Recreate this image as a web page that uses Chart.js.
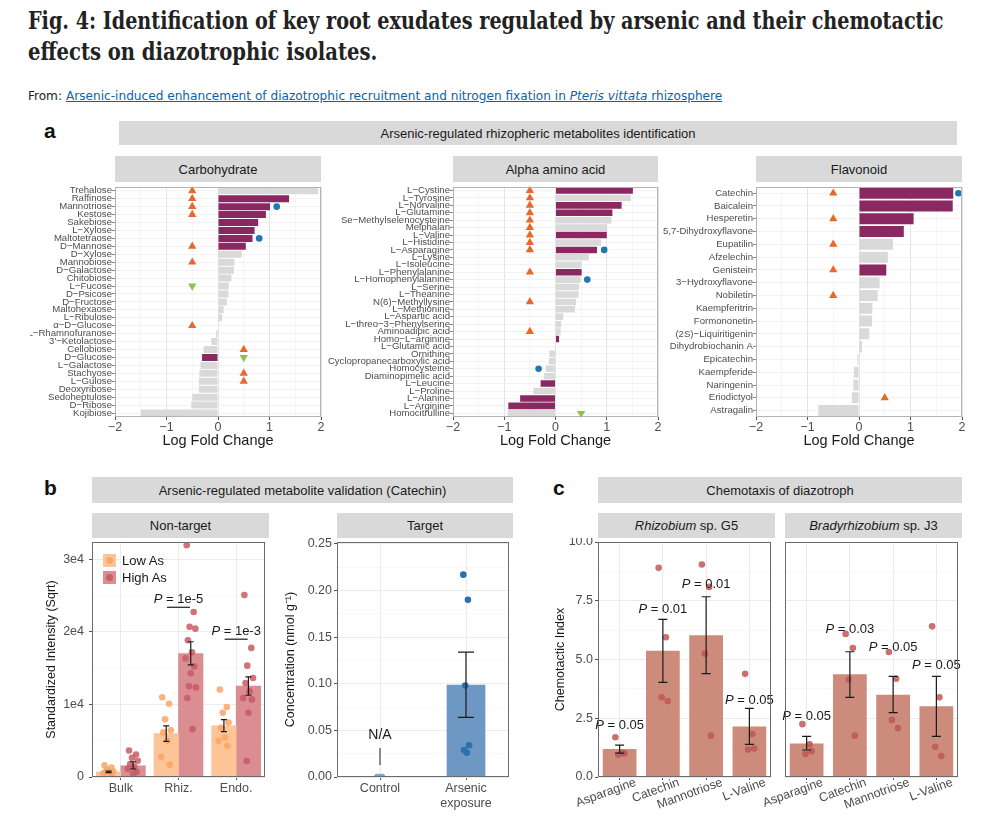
<!DOCTYPE html>
<html>
<head>
<meta charset="utf-8">
<script src="https://cdn.jsdelivr.net/npm/chart.js@4.4.1/dist/chart.umd.min.js"></script>
<style>
  body { margin: 0; width: 985px; height: 822px; position: relative; overflow: hidden; background: #fff;
         font-family: 'Liberation Sans', Arial, sans-serif; color: #1a1a1a; }
  .title { position: absolute; left: 28px; white-space: nowrap; font-family: 'DejaVu Serif Condensed', 'DejaVu Serif', 'Liberation Serif', serif;
           font-weight: bold; font-size: 24px; line-height: 31px; color: #222; transform-origin: 0 0; }
  .from { position: absolute; left: 28px; top: 88px; white-space: nowrap; font-size: 13px; line-height: 16px;
          font-family: 'Liberation Sans Narrow', 'DejaVu Sans Condensed', 'Liberation Sans', sans-serif; color: #222; transform-origin: 0 0; }
  .from a { color: #0b63a6; text-decoration: underline; }
  .tag { position: absolute; font-weight: bold; font-size: 21px; line-height: 24px; color: #111; }
  .strip { position: absolute; background: #d9d9d9; display: flex; align-items: center; justify-content: center;
           font-size: 13px; color: #1a1a1a; white-space: nowrap; }
  canvas { position: absolute; }
  .key { position: absolute; width: 13px; height: 13px; }
  .key i { position: absolute; left: 3px; top: 3px; width: 7px; height: 7px; border-radius: 50%; }
  .ktxt { position: absolute; font-size: 13px; line-height: 14px; color: #1a1a1a; }
</style>
</head>
<body>
<div class="title" id="t1" style="top:5px">Fig. 4: Identification of key root exudates regulated by arsenic and their chemotactic</div>
<div class="title" id="t2" style="top:36px">effects on diazotrophic isolates.</div>
<div class="from" id="fr">From: <a>Arsenic-induced enhancement of diazotrophic recruitment and nitrogen fixation in <i>Pteris vittata</i> rhizosphere</a></div>

<div class="tag" style="left:44px;top:119px">a</div>
<div class="tag" style="left:44px;top:476px">b</div>
<div class="tag" style="left:553px;top:476px">c</div>

<div class="strip" style="left:119px;top:121px;width:838px;height:24px">Arsenic-regulated rhizopheric metabolites identification</div>
<div class="strip" style="left:115px;top:156px;width:206px;height:26px">Carbohydrate</div>
<div class="strip" style="left:453px;top:156px;width:205px;height:26px">Alpha amino acid</div>
<div class="strip" style="left:756px;top:156px;width:206px;height:26px">Flavonoid</div>

<div class="strip" style="left:92px;top:477px;width:421px;height:26px">Arsenic-regulated metabolite validation (Catechin)</div>
<div class="strip" style="left:92px;top:513px;width:177px;height:25px">Non-target</div>
<div class="strip" style="left:337px;top:513px;width:176px;height:25px">Target</div>

<div class="strip" style="left:598px;top:477px;width:364px;height:26px">Chemotaxis of diazotroph</div>
<div class="strip" style="left:598px;top:513px;width:177px;height:25px"><i>Rhizobium</i>&nbsp;sp. G5</div>
<div class="strip" style="left:785px;top:513px;width:177px;height:25px"><i>Bradyrhizobium</i>&nbsp;sp. J3</div>

<script>
// ---------- panel a: log fold change ----------
const carbNames = ['Trehalose', 'Raffinose', 'Mannotriose', 'Kestose', 'Sakebiose', 'L−Xylose', 'Maltotetraose', 'D−Mannose',
  'D−Xylose', 'Mannobiose', 'D−Galactose', 'Chitobiose', 'L−Fucose', 'D−Psicose', 'D−Fructose', 'Maltohexaose', 'L−Ribulose',
  'α−D−Glucose', 'L−Rhamnofuranose', "3'−Ketolactose", 'Cellobiose', 'D−Glucose', 'L−Galactose', 'Stachyose', 'L−Gulose',
  'Deoxyribose', 'Sedoheptulose', 'D−Ribose', 'Kojibiose'];
const carbLfc = [1.94, 1.38, 1.01, 0.93, 0.78, 0.71, 0.67, 0.54, 0.46, 0.32, 0.31, 0.26, 0.21, 0.20, 0.17, 0.11, 0.08,
  0.01, -0.04, -0.13, -0.28, -0.31, -0.34, -0.36, -0.37, -0.37, -0.50, -0.52, -1.50];
const carbSig = ['Raffinose', 'Mannotriose', 'Kestose', 'Sakebiose', 'L−Xylose', 'Maltotetraose', 'D−Mannose', 'D−Glucose'];
const carbUp = [['Trehalose', -0.5], ['Raffinose', -0.5], ['Mannotriose', -0.5], ['Kestose', -0.5], ['D−Mannose', -0.5],
  ['Mannobiose', -0.5], ['α−D−Glucose', -0.5], ['Cellobiose', 0.5], ['Stachyose', 0.5], ['L−Gulose', 0.5]];
const carbDown = [['L−Fucose', -0.5], ['D−Glucose', 0.5]];
const carbDots = [['Mannotriose', 1.14], ['Maltotetraose', 0.80]];

const aminoNames = ['L−Cystine', 'L−Tyrosine', 'L−Norvaline', 'L−Glutamine', 'Se−Methylselenocysteine', 'Melphalan', 'L−Valine',
  'L−Histidine', 'L−Asparagine', 'L−Lysine', 'L−Isoleucine', 'L−Phenylalanine', 'L−Homophenylalanine', 'L−Serine', 'L−Theanine',
  'N(6)−Methyllysine', 'L−Methionine', 'L−Aspartic acid', 'L−threo−3−Phenylserine', 'Aminoadipic acid', 'Homo−L−arginine',
  'L−Glutamic acid', 'Ornithine', 'Cyclopropanecarboxylic acid', 'Homocysteine', 'Diaminopimelic acid', 'L−Leucine',
  'L−Proline', 'L−Alanine', 'L−Arginine', 'Homocitrulline'];
const aminoLfc = [1.51, 1.47, 1.29, 1.11, 1.09, 1.01, 1.00, 0.89, 0.81, 0.65, 0.51, 0.51, 0.49, 0.46, 0.45, 0.40, 0.38,
  0.15, 0.11, 0.10, 0.07, 0.01, -0.12, -0.13, -0.19, -0.22, -0.29, -0.43, -0.69, -0.92, -0.93];
const aminoSig = ['L−Cystine', 'L−Norvaline', 'L−Glutamine', 'L−Valine', 'L−Asparagine', 'L−Phenylalanine', 'Homo−L−arginine',
  'L−Leucine', 'L−Alanine', 'L−Arginine'];
const aminoUp = [['L−Cystine', -0.5], ['L−Tyrosine', -0.5], ['L−Norvaline', -0.5], ['L−Glutamine', -0.5],
  ['Se−Methylselenocysteine', -0.5], ['Melphalan', -0.5], ['L−Valine', -0.5], ['L−Histidine', -0.5], ['L−Asparagine', -0.5],
  ['L−Phenylalanine', -0.5], ['N(6)−Methyllysine', -0.5], ['Aminoadipic acid', -0.5]];
const aminoDown = [['Homocitrulline', 0.5]];
const aminoDots = [['L−Asparagine', 0.95], ['L−Homophenylalanine', 0.62], ['Homocysteine', -0.33]];

const flavNames = ['Catechin', 'Baicalein', 'Hesperetin', '5,7-Dihydroxyflavone', 'Eupatilin', 'Afzelechin', 'Genistein',
  '3−Hydroxyflavone', 'Nobiletin', 'Kaempferitrin', 'Formononetin', '(2S)−Liquiritigenin', 'Dihydrobiochanin A',
  'Epicatechin', 'Kaempferide', 'Naringenin', 'Eriodictyol', 'Astragalin'];
const flavLfc = [1.83, 1.82, 1.06, 0.87, 0.66, 0.56, 0.53, 0.40, 0.36, 0.26, 0.25, 0.20, 0.06, -0.03, -0.10, -0.11, -0.14, -0.79];
const flavSig = ['Catechin', 'Baicalein', 'Hesperetin', '5,7-Dihydroxyflavone', 'Genistein'];
const flavUp = [['Catechin', -0.5], ['Hesperetin', -0.5], ['Eupatilin', -0.5], ['Genistein', -0.5], ['Nobiletin', -0.5],
  ['Eriodictyol', 0.5]];
const flavDown = [];
const flavDots = [['Catechin', 1.93]];

// ---------- panel b: catechin validation ----------
const ntGroups = ['Bulk', 'Rhiz.', 'Endo.'];
const ntLowMean = [700, 6000, 7050];
const ntLowLo = [600, 4900, 6250];
const ntLowHi = [800, 7050, 7900];
const ntHighMean = [1550, 17000, 12550];
const ntHighLo = [1100, 15450, 11270];
const ntHighHi = [2100, 18650, 13800];
const ntLowPts = [[1600, 1300, 1000, 800, 700, 600, 500, 400],
  [11000, 10100, 7950, 6450, 6150, 5000, 2800, 1700],
  [12050, 9650, 8850, 7500, 6800, 5450, 5000, 4300]];
const ntHighPts = [[3650, 3100, 2650, 2250, 1800, 1450, 1150, 700, 450],
  [31950, 22750, 20700, 20450, 18850, 17200, 16350, 15250, 14300, 12500, 12350, 10900, 6600],
  [25100, 17800, 15350, 13650, 12950, 11800, 10900, 10700, 8850, 2200]];
const ntP = ['', '1e-5', '1e-3'];
const ntPy = [null, 24500, 20100];
const ntPline = [null, 23400, 19000];

const tgGroups = ['Control', ['Arsenic', 'exposure']];
const tgMean = [0, 0.099];
const tgLo = [null, 0.064];
const tgHi = [null, 0.134];
const tgPts = [[0, 0, 0], [0.217, 0.190, 0.098, 0.034, 0.029, 0.026]];
const tgNA = 0.045;
const tgNAline = [0.013, 0.031];

// ---------- panel c: chemotaxis ----------
const chemoCats = ['Asparagine', 'Catechin', 'Mannotriose', 'L-Valine'];
const rhizMean = [1.19, 5.37, 6.03, 2.15];
const rhizLo = [1.02, 4.03, 4.40, 1.39];
const rhizHi = [1.36, 6.71, 7.67, 2.92];
const rhizPts = [[1.69, 1.03, 0.95, 1.0], [8.9, 5.95, 3.39, 3.23], [9.04, 8.09, 5.25, 1.76], [4.39, 1.83, 1.17, 1.21]];
const rhizP = ['0.05', '0.01', '0.01', '0.05'];
const rhizPy = [2.2, 7.14, 8.2, 3.25];
const bradyMean = [1.43, 4.37, 3.50, 3.01];
const bradyLo = [1.15, 3.39, 2.74, 1.73];
const bradyHi = [1.73, 5.33, 4.28, 4.28];
const bradyPts = [[2.25, 1.39, 0.98, 1.1], [6.09, 5.49, 4.15, 1.76], [5.32, 4.18, 2.43, 2.08], [6.41, 3.39, 1.29, 0.89]];
const bradyP = ['0.05', '0.03', '0.05', '0.05'];
const bradyPy = [2.57, 6.27, 5.5, 4.75];

// ---------- styling ----------
const FONT = "'Liberation Sans', Arial, Helvetica, sans-serif";
Chart.defaults.font.family = FONT;
Chart.defaults.color = '#4d4d4d';
const PURPLE = '#8a2862', GREY = '#d9d9d9', ORANGE = '#e8682a', GREEN = '#8cc43f', BLUE = '#1f77b4';
const JIT = [-0.07, 0.05, -0.02, 0.08, -0.05, 0.02, -0.09, 0.06, 0.0, -0.03, 0.09, -0.06, 0.03];
const isMul = (v, m) => Math.abs(v / m - Math.round(v / m)) < 1e-6;
const minus = s => String(s).replace('-', '−');

const pin = (w, h) => s => {
  if (w != null) s.width = w;
  if (h != null) s.height = h;
  s.paddingLeft = s.paddingRight = s.paddingTop = s.paddingBottom = 0;
};

// full box round each plot panel
Chart.register({
  id: 'frame',
  afterDraw(chart, args, o) {
    if (!o.color) return;
    const { ctx, chartArea: a } = chart;
    ctx.save();
    ctx.strokeStyle = o.color;
    ctx.lineWidth = 1;
    ctx.strokeRect(Math.round(a.left) + 0.5, Math.round(a.top) + 0.5, Math.round(a.width) - 1, Math.round(a.height) - 1);
    ctx.restore();
  }
});

function drawP(ctx, x, y, val, size) {
  ctx.textAlign = 'left';
  ctx.textBaseline = 'middle';
  ctx.fillStyle = '#1a1a1a';
  ctx.font = `italic ${size}px ${FONT}`;
  const w1 = ctx.measureText('P').width;
  ctx.font = `${size}px ${FONT}`;
  const rest = ' = ' + val;
  const w2 = ctx.measureText(rest).width;
  const sx = x - (w1 + w2) / 2;
  ctx.font = `italic ${size}px ${FONT}`;
  ctx.fillText('P', sx, y);
  ctx.font = `${size}px ${FONT}`;
  ctx.fillText(rest, sx + w1, y);
}

// error bars, p-values and notes, placed through the chart scales
Chart.register({
  id: 'extras',
  afterDatasetsDraw(chart, args, o) {
    const { ctx } = chart;
    const xs = chart.scales.xl, ys = chart.scales.y;
    if (!xs) return;
    ctx.save();
    ctx.strokeStyle = '#1a1a1a';
    ctx.lineWidth = 1.2;
    (o.err || []).forEach(e => {
      if (e.lo == null) return;
      const x = xs.getPixelForValue(e.x), y1 = ys.getPixelForValue(e.lo), y2 = ys.getPixelForValue(e.hi);
      ctx.beginPath();
      ctx.moveTo(x, y1); ctx.lineTo(x, y2);
      ctx.moveTo(x - o.cap, y1); ctx.lineTo(x + o.cap, y1);
      ctx.moveTo(x - o.cap, y2); ctx.lineTo(x + o.cap, y2);
      ctx.stroke();
    });
    (o.lines || []).forEach(l => {
      const y = ys.getPixelForValue(l.y);
      ctx.beginPath();
      ctx.moveTo(xs.getPixelForValue(l.x1), y); ctx.lineTo(xs.getPixelForValue(l.x2), y);
      ctx.stroke();
    });
    (o.vlines || []).forEach(l => {
      const x = xs.getPixelForValue(l.x);
      ctx.strokeStyle = '#444';
      ctx.beginPath();
      ctx.moveTo(x, ys.getPixelForValue(l.y1)); ctx.lineTo(x, ys.getPixelForValue(l.y2));
      ctx.stroke();
    });
    (o.pvals || []).forEach(p => drawP(ctx, xs.getPixelForValue(p.x), ys.getPixelForValue(p.y), p.p, o.psize || 13));
    (o.texts || []).forEach(t => {
      ctx.font = `${t.size}px ${FONT}`;
      ctx.fillStyle = '#1a1a1a';
      ctx.textAlign = 'center';
      ctx.textBaseline = 'middle';
      ctx.fillText(t.text, xs.getPixelForValue(t.x), ys.getPixelForValue(t.y));
    });
    ctx.restore();
  }
});

function canvasAt(left, top, w, h) {
  const c = document.createElement('canvas');
  c.width = w; c.height = h;
  c.style.left = left + 'px';
  c.style.top = top + 'px';
  c.style.width = w + 'px';
  c.style.height = h + 'px';
  document.body.appendChild(c);
  return c;
}

const markerSet = (list, style, rot, color, r) => ({
  type: 'scatter', data: list.map(([n, x]) => ({ x, y: n })), pointStyle: style, pointRotation: rot,
  pointRadius: r, pointBackgroundColor: color, pointBorderWidth: 0, order: 0
});

function lfcChart(box, names, lfc, sig, up, down, dots) {
  const cv = canvasAt(box.left, box.top, box.w, box.h);
  return new Chart(cv, {
    type: 'bar',
    data: {
      labels: names,
      datasets: [
        markerSet(up, 'triangle', 0, ORANGE, 4.8),
        markerSet(down, 'triangle', 180, GREEN, 4.8),
        markerSet(dots, 'circle', 0, BLUE, 3.3),
        { data: lfc, backgroundColor: names.map(n => sig.includes(n) ? PURPLE : GREY),
          barPercentage: box.bar, categoryPercentage: 1, order: 1 }
      ]
    },
    options: {
      responsive: false, animation: false, events: [], indexAxis: 'y',
      layout: { padding: { left: 0, top: 0, bottom: 0, right: box.pr } },
      plugins: { legend: { display: false }, tooltip: { enabled: false }, frame: { color: '#b3b3b3' } },
      scales: {
        x: {
          type: 'linear', min: -2, max: 2,
          ticks: { stepSize: 0.5, autoSkip: false, maxRotation: 0, padding: 0, color: '#4d4d4d', font: { size: 12.5 },
                   callback: v => Number.isInteger(v) ? minus(v) : '' },
          grid: { color: c => Number.isInteger(c.tick.value) ? '#e3e3e3' : '#f2f2f2',
                  lineWidth: c => Number.isInteger(c.tick.value) ? 1 : 0.7,
                  tickColor: c => Number.isInteger(c.tick.value) ? '#555' : 'rgba(0,0,0,0)', tickLength: 3 },
          border: { display: false },
          title: { display: true, text: 'Log Fold Change', color: '#1a1a1a', font: { size: 14.5 }, padding: 0 },
          afterFit: pin(null, box.xh)
        },
        y: {
          type: 'category',
          ticks: { autoSkip: false, padding: 0, color: '#4d4d4d', font: { size: box.fs } },
          grid: { offset: false, color: '#ececec', lineWidth: 0.7, tickColor: '#555', tickLength: 3 },
          border: { display: false },
          afterFit: pin(box.yw)
        }
      }
    }
  });
}

lfcChart({ left: 30, top: 182, w: 298, h: 268, yw: 85, xh: 33, pr: 7, bar: 0.88, fs: 9.6 },
  carbNames, carbLfc, carbSig, carbUp, carbDown, carbDots);
lfcChart({ left: 326, top: 182, w: 341, h: 268, yw: 127, xh: 33, pr: 9, bar: 0.88, fs: 9.6 },
  aminoNames, aminoLfc, aminoSig, aminoUp, aminoDown, aminoDots);
lfcChart({ left: 652, top: 182, w: 319, h: 268, yw: 104, xh: 33, pr: 9, bar: 0.86, fs: 9.6 },
  flavNames, flavLfc, flavSig, flavUp, flavDown, flavDots);

// ---------- bar + dot panels ----------
// bars, dots and error bars share one hidden linear x axis (xl); the visible category axis carries labels and grid
function dotBar(c) {
  const n = c.cats.length;
  const cv = canvasAt(c.left, c.top, c.w, c.h);
  const datasets = [];
  const err = [];
  c.groups.forEach(g => {
    const pts = [], cols = [];
    g.pts.forEach((arr, i) => arr.forEach((v, k) => {
      pts.push({ x: i + g.off + JIT[k % JIT.length] * c.jit, y: v });
      cols.push(Array.isArray(g.dot) ? g.dot[i] : g.dot);
    }));
    datasets.push({ type: 'scatter', xAxisID: 'xl', data: pts, pointRadius: 3.3, pointBackgroundColor: cols,
                    pointBorderWidth: 0, order: 0 });
    datasets.push({ type: 'bar', xAxisID: 'xl', grouped: false, data: g.mean.map((m, i) => ({ x: i + g.off, y: m })),
                    backgroundColor: g.fill, barPercentage: c.barPct, categoryPercentage: 1, order: 2 });
    g.mean.forEach((m, i) => err.push({ x: i + g.off, lo: g.lo[i], hi: g.hi[i] }));
  });
  const ticksAt = s => {
    const t = [];
    for (let v = 0; v <= c.ymax + 1e-9; v += c.step) t.push({ value: +v.toFixed(6) });
    s.ticks = t;
  };
  return new Chart(cv, {
    type: 'bar',
    data: { labels: c.cats, datasets },
    options: {
      responsive: false, animation: false, events: [],
      layout: { padding: 0 },
      plugins: {
        legend: { display: false }, tooltip: { enabled: false }, frame: { color: '#6b6b6b' },
        extras: { err, cap: c.cap, pvals: c.pvals || [], lines: c.lines || [], vlines: c.vlines || [], texts: c.texts || [], psize: 13 }
      },
      scales: {
        x: {
          type: 'category', offset: true,
          ticks: { autoSkip: false, padding: c.xpad, labelOffset: c.xoff, color: '#4d4d4d', font: { size: 12.5 },
                   minRotation: c.rot, maxRotation: c.rot },
          grid: { offset: false, color: '#ebebeb', tickColor: '#555', tickLength: 3 },
          border: { display: false },
          afterFit: pin(null, c.xh)
        },
        xl: { type: 'linear', display: false, offset: false, grid: { offset: false }, min: -0.5, max: n - 0.5,
              ticks: { stepSize: 1, includeBounds: false }, afterFit: pin(0, 0) },
        y: {
          min: 0, max: c.ymax,
          afterBuildTicks: ticksAt,
          ticks: { display: c.showY, autoSkip: false, padding: c.tpad, color: '#4d4d4d',
                   font: { size: 12.5 }, callback: v => isMul(v, c.major) ? c.fmt(v) : '' },
          grid: { color: t => isMul(t.tick.value, c.major) ? '#ebebeb' : '#f5f5f5',
                  lineWidth: t => isMul(t.tick.value, c.major) ? 1 : 0.7,
                  tickColor: t => isMul(t.tick.value, c.major) ? '#555' : 'rgba(0,0,0,0)',
                  tickLength: 3, drawTicks: c.showY },
          border: { display: false },
          title: { display: !!c.ytitle, text: c.ytitle, color: '#1a1a1a', font: { size: 12.5 }, padding: 0 },
          afterFit: pin(c.yw)
        }
      }
    }
  });
}

const dodge = 0.2125;
dotBar({
  left: 44, top: 538, w: 225, h: 264, yw: 48, xh: 25, tpad: 5, xpad: 1, xoff: 0,
  cats: ntGroups, barPct: 1, rot: 0, cap: 3, jit: 1.0,
  ymax: 32400, step: 5000, major: 10000, fmt: v => v === 0 ? '0' : Math.round(v / 10000) + 'e4', showY: true,
  ytitle: 'Standardized Intensity (Sqrt)',
  groups: [
    { off: -dodge, mean: ntLowMean, lo: ntLowLo, hi: ntLowHi, pts: ntLowPts, fill: '#fdc498', dot: 'rgba(250,164,100,0.85)' },
    { off: dodge, mean: ntHighMean, lo: ntHighLo, hi: ntHighHi, pts: ntHighPts, fill: '#da8e91', dot: 'rgba(200,90,100,0.85)' }
  ],
  pvals: ntP.map((p, i) => ({ x: i, y: ntPy[i], p })).filter(p => p.p),
  lines: ntPline.map((y, i) => ({ x1: i - 0.2, x2: i + 0.2, y })).filter(l => l.y != null)
});

dotBar({
  left: 283, top: 538, w: 230, h: 280, yw: 54, xh: 41, tpad: 2, xpad: 1, xoff: 0,
  cats: tgGroups, barPct: 0.45, rot: 0, cap: 8, jit: 0.45,
  ymax: 0.252, step: 0.025, major: 0.05, fmt: v => v.toFixed(2), showY: true,
  ytitle: 'Concentration (nmol g⁻¹)',
  groups: [
    { off: 0, mean: tgMean, lo: tgLo, hi: tgHi, pts: tgPts, fill: '#6d98c3', dot: ['#6aaae6', '#2a72ae'] }
  ],
  texts: [{ x: 0, y: tgNA, text: 'N/A', size: 14 }],
  vlines: [{ x: 0, y1: tgNAline[0], y2: tgNAline[1] }]
});

const chemoBase = { top: 538, h: 290, xh: 51, xpad: -5, xoff: 16, barPct: 0.78, rot: 20, cap: 4.5, jit: 1.4,
  ymax: 10, step: 1.25, major: 2.5, fmt: v => v.toFixed(1) };
dotBar(Object.assign({}, chemoBase, {
  left: 553, w: 222, yw: 45, tpad: 2, showY: true, ytitle: 'Chemotactic Index', cats: chemoCats,
  groups: [{ off: 0, mean: rhizMean, lo: rhizLo, hi: rhizHi, pts: rhizPts, fill: '#cd8b7b', dot: 'rgba(190,88,85,0.85)' }],
  pvals: rhizP.map((p, i) => ({ x: i, y: rhizPy[i], p }))
}));
dotBar(Object.assign({}, chemoBase, {
  left: 750, w: 212, yw: 35, tpad: 0, showY: false, ytitle: '', cats: chemoCats,
  groups: [{ off: 0, mean: bradyMean, lo: bradyLo, hi: bradyHi, pts: bradyPts, fill: '#cd8b7b', dot: 'rgba(190,88,85,0.85)' }],
  pvals: bradyP.map((p, i) => ({ x: i, y: bradyPy[i], p }))
}));

// legend inside the non-target panel
[['Low As', '#fdc498', 'rgba(250,164,100,0.9)', 554], ['High As', '#da8e91', 'rgba(200,90,100,0.9)', 571]].forEach(([t, f, d, y]) => {
  const k = document.createElement('div');
  k.className = 'key';
  k.style.cssText = `left:103px;top:${y}px;background:${f}`;
  k.innerHTML = `<i style="background:${d}"></i>`;
  document.body.appendChild(k);
  const s = document.createElement('div');
  s.className = 'ktxt';
  s.style.cssText = `left:122px;top:${y}px`;
  s.textContent = t;
  document.body.appendChild(s);
});

// fit the heading lines to the widths they take in the figure
[['t1', 915], ['t2', 349], ['fr', 694]].forEach(([id, w]) => {
  const el = document.getElementById(id);
  el.style.transform = `scaleX(${w / el.scrollWidth})`;
});
</script>
</body>
</html>
